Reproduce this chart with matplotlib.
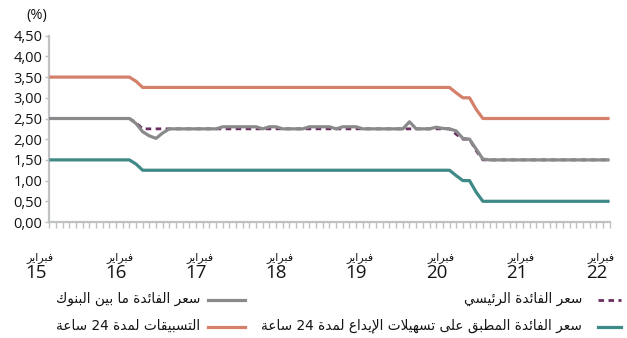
import re
import matplotlib
matplotlib.use("Agg")
import matplotlib.pyplot as plt
from matplotlib.lines import Line2D

# ---------------------------------------------------------------------------
# Data: monthly values, February 2015 ... February 2022 (85 months)
# ---------------------------------------------------------------------------
year_labels = ["15", "16", "17", "18", "19", "20", "21", "22"]
month_word = "فبراير"

lending_24h = [
    3.50, 3.50, 3.50, 3.50, 3.50, 3.50, 3.50, 3.50, 3.50, 3.50, 3.50, 3.50,
    3.50, 3.40, 3.25, 3.25, 3.25, 3.25, 3.25, 3.25, 3.25, 3.25, 3.25, 3.25,
    3.25, 3.25, 3.25, 3.25, 3.25, 3.25, 3.25, 3.25, 3.25, 3.25, 3.25, 3.25,
    3.25, 3.25, 3.25, 3.25, 3.25, 3.25, 3.25, 3.25, 3.25, 3.25, 3.25, 3.25,
    3.25, 3.25, 3.25, 3.25, 3.25, 3.25, 3.25, 3.25, 3.25, 3.25, 3.25, 3.25,
    3.25, 3.12, 3.00, 3.00, 2.72, 2.50, 2.50, 2.50, 2.50, 2.50, 2.50, 2.50,
    2.50, 2.50, 2.50, 2.50, 2.50, 2.50, 2.50, 2.50, 2.50, 2.50, 2.50, 2.50,
    2.50,
]

deposit_24h = [
    1.50, 1.50, 1.50, 1.50, 1.50, 1.50, 1.50, 1.50, 1.50, 1.50, 1.50, 1.50,
    1.50, 1.40, 1.25, 1.25, 1.25, 1.25, 1.25, 1.25, 1.25, 1.25, 1.25, 1.25,
    1.25, 1.25, 1.25, 1.25, 1.25, 1.25, 1.25, 1.25, 1.25, 1.25, 1.25, 1.25,
    1.25, 1.25, 1.25, 1.25, 1.25, 1.25, 1.25, 1.25, 1.25, 1.25, 1.25, 1.25,
    1.25, 1.25, 1.25, 1.25, 1.25, 1.25, 1.25, 1.25, 1.25, 1.25, 1.25, 1.25,
    1.25, 1.12, 1.00, 1.00, 0.72, 0.50, 0.50, 0.50, 0.50, 0.50, 0.50, 0.50,
    0.50, 0.50, 0.50, 0.50, 0.50, 0.50, 0.50, 0.50, 0.50, 0.50, 0.50, 0.50,
    0.50,
]

policy_rate = [
    2.50, 2.50, 2.50, 2.50, 2.50, 2.50, 2.50, 2.50, 2.50, 2.50, 2.50, 2.50,
    2.50, 2.40, 2.25, 2.25, 2.25, 2.25, 2.25, 2.25, 2.25, 2.25, 2.25, 2.25,
    2.25, 2.25, 2.25, 2.25, 2.25, 2.25, 2.25, 2.25, 2.25, 2.25, 2.25, 2.25,
    2.25, 2.25, 2.25, 2.25, 2.25, 2.25, 2.25, 2.25, 2.25, 2.25, 2.25, 2.25,
    2.25, 2.25, 2.25, 2.25, 2.25, 2.25, 2.25, 2.25, 2.25, 2.25, 2.25, 2.25,
    2.25, 2.12, 2.00, 2.00, 1.72, 1.50, 1.50, 1.50, 1.50, 1.50, 1.50, 1.50,
    1.50, 1.50, 1.50, 1.50, 1.50, 1.50, 1.50, 1.50, 1.50, 1.50, 1.50, 1.50,
    1.50,
]

interbank_rate = [
    2.50, 2.50, 2.50, 2.50, 2.50, 2.50, 2.50, 2.50, 2.50, 2.50, 2.50, 2.50,
    2.50, 2.38, 2.18, 2.08, 2.02, 2.15, 2.25, 2.25, 2.25, 2.25, 2.25, 2.25,
    2.25, 2.25, 2.30, 2.30, 2.30, 2.30, 2.30, 2.30, 2.25, 2.30, 2.30, 2.25,
    2.25, 2.25, 2.25, 2.30, 2.30, 2.30, 2.30, 2.25, 2.30, 2.30, 2.30, 2.25,
    2.25, 2.25, 2.25, 2.25, 2.25, 2.25, 2.42, 2.25, 2.25, 2.25, 2.29, 2.26,
    2.25, 2.20, 2.02, 2.00, 1.76, 1.52, 1.50, 1.50, 1.50, 1.50, 1.50, 1.50,
    1.50, 1.50, 1.50, 1.50, 1.50, 1.50, 1.50, 1.50, 1.50, 1.50, 1.50, 1.50,
    1.50,
]

y_ticks = [0.0, 0.5, 1.0, 1.5, 2.0, 2.5, 3.0, 3.5, 4.0, 4.5]

legend_policy = "سعر الفائدة الرئيسي"
legend_interbank = "سعر الفائدة ما بين البنوك"
legend_deposit = "سعر الفائدة المطبق على تسهيلات الإيداع لمدة 24 ساعة"
legend_lending = "التسبيقات لمدة 24 ساعة"

# ---------------------------------------------------------------------------
# Minimal Arabic shaping (presentation forms) + visual ordering
# ---------------------------------------------------------------------------
# letter: (isolated, final, initial, medial); None where the form does not exist
FORMS = {
    "ء": ("\uFE80", None, None, None),
    "ا": ("\uFE8D", "\uFE8E", None, None),
    "إ": ("\uFE87", "\uFE88", None, None),
    "أ": ("\uFE83", "\uFE84", None, None),
    "ب": ("\uFE8F", "\uFE90", "\uFE91", "\uFE92"),
    "ة": ("\uFE93", "\uFE94", None, None),
    "ت": ("\uFE95", "\uFE96", "\uFE97", "\uFE98"),
    "د": ("\uFEA9", "\uFEAA", None, None),
    "ر": ("\uFEAD", "\uFEAE", None, None),
    "س": ("\uFEB1", "\uFEB2", "\uFEB3", "\uFEB4"),
    "ط": ("\uFEC1", "\uFEC2", "\uFEC3", "\uFEC4"),
    "ع": ("\uFEC9", "\uFECA", "\uFECB", "\uFECC"),
    "ف": ("\uFED1", "\uFED2", "\uFED3", "\uFED4"),
    "ق": ("\uFED5", "\uFED6", "\uFED7", "\uFED8"),
    "ك": ("\uFED9", "\uFEDA", "\uFEDB", "\uFEDC"),
    "ل": ("\uFEDD", "\uFEDE", "\uFEDF", "\uFEE0"),
    "م": ("\uFEE1", "\uFEE2", "\uFEE3", "\uFEE4"),
    "ن": ("\uFEE5", "\uFEE6", "\uFEE7", "\uFEE8"),
    "ه": ("\uFEE9", "\uFEEA", "\uFEEB", "\uFEEC"),
    "و": ("\uFEED", "\uFEEE", None, None),
    "ى": ("\uFEEF", "\uFEF0", None, None),
    "ي": ("\uFEF1", "\uFEF2", "\uFEF3", "\uFEF4"),
    "ئ": ("\uFE89", "\uFE8A", "\uFE8B", "\uFE8C"),
}
LAM_ALEF = {
    "ا": ("\uFEFB", "\uFEFC", None, None),
    "إ": ("\uFEF9", "\uFEFA", None, None),
    "أ": ("\uFEF7", "\uFEF8", None, None),
}


def shape_arabic(text):
    tokens = []
    i = 0
    while i < len(text):
        c = text[i]
        if c == "ل" and i + 1 < len(text) and text[i + 1] in LAM_ALEF:
            tokens.append(LAM_ALEF[text[i + 1]])
            i += 2
            continue
        tokens.append(FORMS.get(c, c))
        i += 1

    def joins_next(t):
        return isinstance(t, tuple) and t[2] is not None

    def joins_prev(t):
        return isinstance(t, tuple) and t[1] is not None

    out = []
    for k, t in enumerate(tokens):
        if not isinstance(t, tuple):
            out.append(t)
            continue
        prev_ok = k > 0 and joins_next(tokens[k - 1]) and joins_prev(t)
        next_ok = k + 1 < len(tokens) and joins_next(t) and joins_prev(tokens[k + 1])
        if prev_ok and next_ok:
            out.append(t[3])
        elif prev_ok:
            out.append(t[1])
        elif next_ok:
            out.append(t[2])
        else:
            out.append(t[0])
    visual = "".join(reversed(out))
    return re.sub(r"[0-9]+", lambda m: m.group(0)[::-1], visual)


# ---------------------------------------------------------------------------
# Figure
# ---------------------------------------------------------------------------
W, H = 627, 338
plt.rcParams["font.family"] = ["Open Sans", "DejaVu Sans"]

fig = plt.figure(figsize=(W / 100, H / 100), dpi=100)
fig.patch.set_facecolor("white")

x0, x1 = 49.3, 609.6      # pixel span of the plot area
y_top, y_bot = 35.7, 222.0
ax = fig.add_axes([x0 / W, 1 - y_bot / H, (x1 - x0) / W, (y_bot - y_top) / H])

months = list(range(len(interbank_rate)))

C_LEND = "#D4806B"
C_DEP = "#3F8A87"
C_POL = "#6A2D60"
C_IB = "#8A8A8D"
C_AXIS = "#BFC1C3"
C_TEXT = "#141414"

ax.plot(months, lending_24h, color=C_LEND, lw=2.3, solid_capstyle="butt", zorder=3)
ax.plot(months, deposit_24h, color=C_DEP, lw=2.3, solid_capstyle="butt", zorder=3)
ax.plot(months, policy_rate, color=C_POL, lw=2.0, dashes=(2.0, 1.6), zorder=3)
ax.plot(months, interbank_rate, color=C_IB, lw=2.3, solid_capstyle="butt", zorder=4)

ax.set_xlim(0, 84)
ax.set_ylim(0, 4.5)

for side in ("top", "right"):
    ax.spines[side].set_visible(False)
for side in ("left", "bottom"):
    ax.spines[side].set_color(C_AXIS)
    ax.spines[side].set_linewidth(1.6)

ax.set_yticks(y_ticks)
ax.set_yticklabels([f"{v:.2f}".replace(".", ",") for v in y_ticks], fontsize=10.5,
                   color=C_TEXT)
ax.tick_params(axis="y", length=3, width=1.0, color=C_AXIS, pad=2)

ax.set_xticks(months)
ax.set_xticklabels([])
ax.tick_params(axis="x", length=4, width=1.0, color=C_AXIS, direction="out")

# year labels under the axis
for k, yl in enumerate(year_labels):
    xm = 12 * k
    xp = x0 + xm * (x1 - x0) / 84.0
    fig.text((xp - 9) / W, 1 - 257.5 / H, shape_arabic(month_word), ha="center",
             va="center", fontsize=8, family=["DejaVu Sans"], color=C_TEXT)
    fig.text((xp - 13) / W, 1 - 273.5 / H, yl, ha="center", va="center",
             fontsize=13.5, family=["Liberation Sans Narrow", "Open Sans"],
             color=C_TEXT)

fig.text(36.5 / W, 1 - 16 / H, "(%)", ha="center", va="center", fontsize=10.5,
         color=C_TEXT)


# legend (right-to-left: key to the right of its text)
def legend_item(x_key0, x_key1, x_text_right, y, label, **line_kw):
    fig.add_artist(Line2D([x_key0 / W, x_key1 / W], [1 - y / H, 1 - y / H],
                          transform=fig.transFigure, **line_kw))
    fig.text(x_text_right / W, 1 - (y - 1) / H, shape_arabic(label), ha="right",
             va="center", fontsize=9.8, family=["DejaVu Sans"], color=C_TEXT)


legend_item(598, 621, 582, 300, legend_policy, color=C_POL, lw=2.0, dashes=(2.0, 1.6))
legend_item(208, 245, 200, 300, legend_interbank, color=C_IB, lw=2.3)
legend_item(598, 621, 582, 327, legend_deposit, color=C_DEP, lw=2.3)
legend_item(208, 245, 200, 327, legend_lending, color=C_LEND, lw=2.3)

fig.savefig("out.png", dpi=100, facecolor="white")
